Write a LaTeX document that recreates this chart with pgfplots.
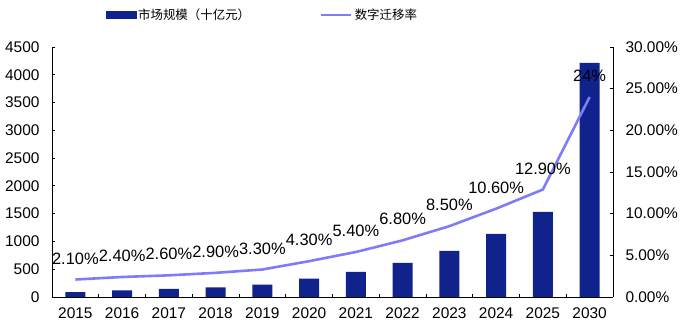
\documentclass[border=0pt]{standalone}
\usepackage{fontspec}
\setmainfont{Liberation Sans}
\newfontfamily\cjk{Noto Sans CJK SC}
\usepackage{pgfplots}
\pgfplotsset{compat=1.18}
\definecolor{barblue}{RGB}{16,34,140}
\definecolor{lineblue}{RGB}{125,125,250}
\pgfplotsset{
  common/.style={
    at={(52bp,32bp)}, anchor=south west,
    scale only axis, width=561bp, height=250bp,
    xmin=-0.5, xmax=11.5,
    tick align=inside,
    major tick length=3bp, minor tick length=3bp,
    every tick/.style={black, line width=0.8bp},
    axis line style={black, line width=0.8bp},
    /pgf/number format/assume math mode=true,
    ticklabel style={font=\fontsize{15.5}{17}\selectfont},
  }
}
\begin{document}
\begin{tikzpicture}
\useasboundingbox (0,0) rectangle (680bp,329bp);
\begin{axis}[common,
  ymin=0, ymax=4500,
  ytick={0,500,...,4500},
  axis x line*=bottom, axis y line*=left,
  xtick={0,...,11},
  xticklabels={2015,2016,2017,2018,2019,2020,2021,2022,2023,2024,2025,2030},
  minor xtick={0.5,1.5,...,10.5},
  major x tick style={draw=none},
  minor x tick style={black, line width=0.8bp},
  xticklabel style={yshift=-7bp},
  yticklabel style={xshift=-9bp, /pgf/number format/set thousands separator={}},
]
\addplot[ybar, bar width=20bp, fill=barblue, draw=none] coordinates {
(0,90) (1,120) (2,145) (3,175) (4,222) (5,330) (6,450) (7,612) (8,828) (9,1134) (10,1530) (11,4215)
};
\end{axis}
\begin{axis}[common,
  ymin=0, ymax=30,
  axis x line=none, axis y line*=right,
  ytick={0,5,...,30},
  yticklabel={\pgfmathprintnumber[fixed,fixed zerofill,precision=2]{\tick}\%},
  yticklabel style={xshift=9bp},
  legend columns=2,
  legend style={at={(0.375,1.128)}, anchor=center, draw=none, fill=none,
    font=\cjk\fontsize{12.5}{14}\selectfont,
    /tikz/every even column/.append style={column sep=68bp},
    inner sep=0pt, cells={anchor=west}},
]
\addlegendimage{legend image code/.code={\fill[barblue] (0bp,-3.5bp) rectangle (30bp,3.5bp);}}
\addlegendentry{市场规模（十亿元）}
\addplot[lineblue, line width=2.6bp,
  nodes near coords, point meta=explicit symbolic,
  nodes near coords style={anchor=center, yshift=21bp, black, font=\fontsize{16.5}{18}\selectfont},
  legend image code/.code={\draw[lineblue, line width=2.6bp] (0bp,0bp) -- (30bp,0bp);}]
coordinates {
(0,2.1) [2.10\%]
(1,2.4) [2.40\%]
(2,2.6) [2.60\%]
(3,2.9) [2.90\%]
(4,3.3) [3.30\%]
(5,4.3) [4.30\%]
(6,5.4) [5.40\%]
(7,6.8) [6.80\%]
(8,8.5) [8.50\%]
(9,10.6) [10.60\%]
(10,12.9) [12.90\%]
(11,24) [24\%]
};
\addlegendentry{数字迁移率}
\end{axis}
\end{tikzpicture}
\end{document}
